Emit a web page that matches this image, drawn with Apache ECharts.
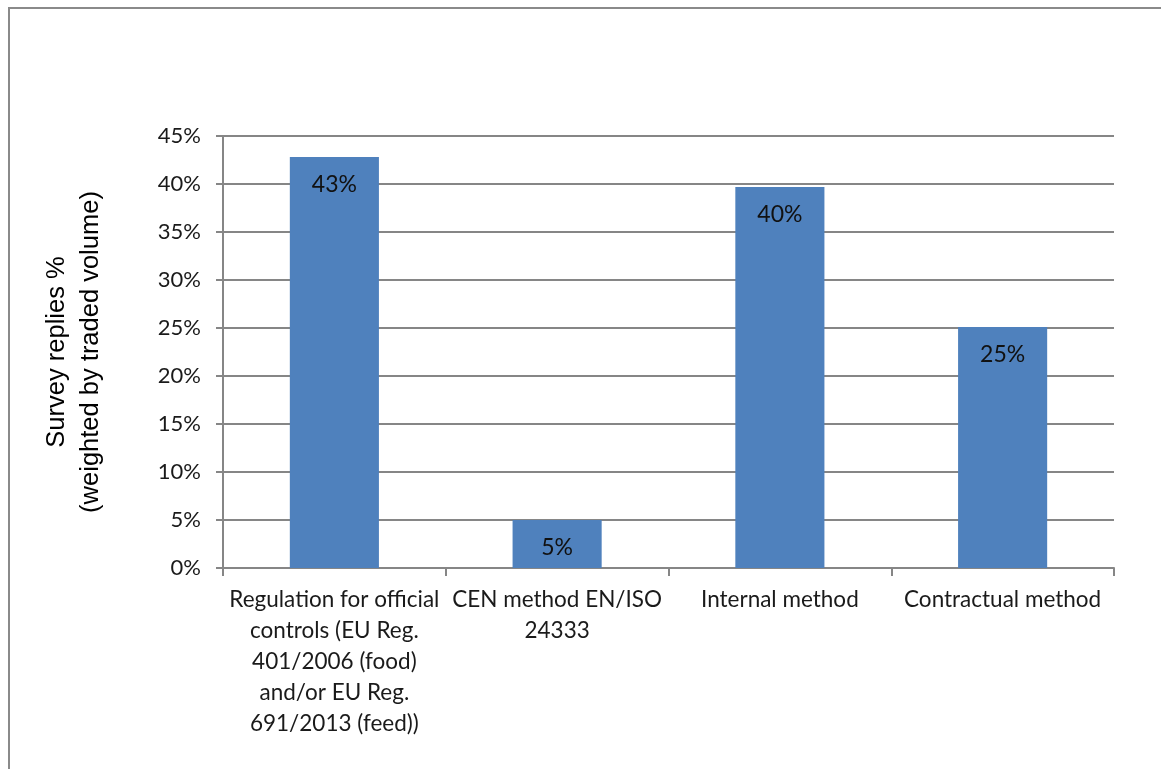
<!DOCTYPE html>
<html>
<head>
<meta charset="utf-8">
<script src="https://cdn.jsdelivr.net/npm/echarts@6/dist/echarts.min.js"></script>
<style>
html,body{margin:0;padding:0;background:#fff;}
#chart{width:1161px;height:769px;}
</style>
</head>
<body>
<div id="chart"></div>
<script>
const categories = [
  'Regulation for official\ncontrols (EU Reg.\n401/2006 (food)\nand/or EU Reg.\n691/2013 (feed))',
  'CEN method EN/ISO\n24333',
  'Internal method',
  'Contractual method'
];
const values = [42.8, 5.0, 39.7, 25.1];
const valueLabels = ['43%', '5%', '40%', '25%'];
const yTicks = { min: 0, max: 45, interval: 5 };
const yTitle = 'Survey replies %\n(weighted by traded volume)';

const chart = echarts.init(document.getElementById('chart'), null, { renderer: 'canvas' });
const axisGray = '#868686';
const font = 'Lato, "Open Sans", sans-serif';
chart.setOption({
  animation: false,
  backgroundColor: '#fff',
  graphic: [{
    type: 'rect',
    shape: { x: 9, y: 8, width: 1200, height: 800 },
    style: { fill: 'none', stroke: '#8a8a8a', lineWidth: 2 },
    silent: true
  }],
  grid: { left: 223, right: 47, top: 136, bottom: 201 },
  xAxis: {
    type: 'category',
    data: categories,
    axisLine: { lineStyle: { color: axisGray, width: 2 } },
    axisTick: { show: true, length: 8, alignWithLabel: false, lineStyle: { color: axisGray, width: 2 } },
    axisLabel: { color: '#1a1a1a', fontFamily: font, fontSize: 22.5, lineHeight: 31, margin: 16, interval: 0 }
  },
  yAxis: {
    type: 'value',
    min: yTicks.min, max: yTicks.max, interval: yTicks.interval,
    name: yTitle,
    nameLocation: 'middle',
    nameGap: 115,
    nameTextStyle: { color: '#000', fontFamily: '"Liberation Sans", Arial, sans-serif', fontSize: 25.5, lineHeight: 34 },
    axisLine: { show: true, lineStyle: { color: axisGray, width: 2 } },
    axisTick: { show: true, length: 7, lineStyle: { color: axisGray, width: 2 } },
    splitLine: { show: true, lineStyle: { color: axisGray, width: 2 } },
    axisLabel: { color: '#1a1a1a', fontFamily: font, fontSize: 22, margin: 22, formatter: v => v + '%' }
  },
  series: [{
    type: 'bar',
    data: values,
    barWidth: '40%',
    itemStyle: { color: '#4F81BD' },
    label: {
      show: true,
      position: 'insideTop',
      distance: 16,
      color: '#111',
      fontFamily: font,
      fontSize: 23,
      formatter: p => valueLabels[p.dataIndex]
    }
  }]
});
</script>
</body>
</html>
